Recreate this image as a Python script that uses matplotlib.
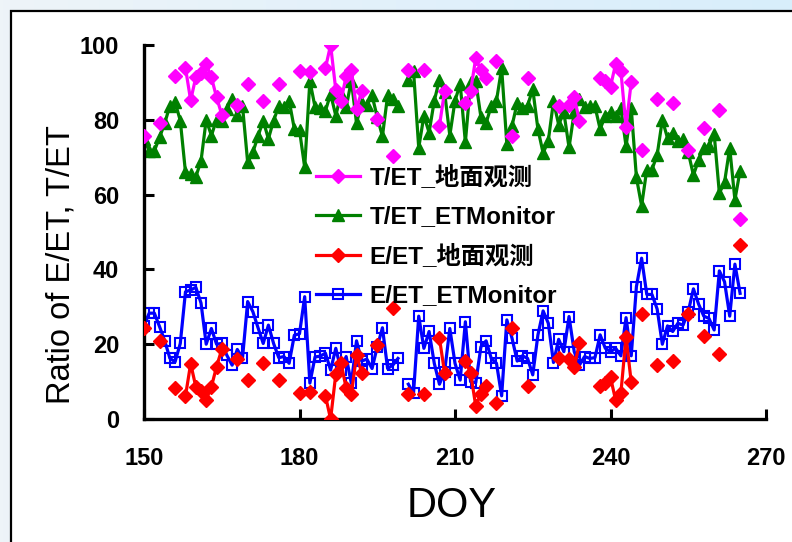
import numpy as np
import pandas as pd
import matplotlib
matplotlib.use("Agg")
import matplotlib.pyplot as plt
from matplotlib.patches import Rectangle
from matplotlib.colors import LinearSegmentedColormap

plt.rcParams['font.family'] = ['Liberation Sans', 'Noto Sans CJK SC', 'DejaVu Sans']

# ---------------- data ----------------
doy_monitor = [149, 150, 151, 152, 153, 154, 155, 156, 157, 158, 159, 160, 161, 162, 163, 164,
               165, 166, 167, 168, 169, 170, 171, 172, 173, 174, 175, 176, 177, 178, 179, 180,
               181, 182, 183, 184, 185, 186, 187, 188, 189, 190, 191, 192, 193, 194, 195, 196,
               197, 198, 199, 201, 202, 203, 204, 205, 206, 207, 208, 209, 210, 211, 212, 213,
               214, 215, 216, 217, 218, 219, 220, 221, 222, 223, 224, 225, 226, 227, 228, 229,
               230, 231, 232, 233, 234, 235, 236, 237, 238, 239, 240, 241, 242, 243, 244, 245,
               246, 247, 248, 249, 250, 251, 252, 253, 254, 255, 256, 257, 258, 259, 260, 261,
               262, 263, 264, 265]

e_et_monitor = [30.0, 25.0, 28.3, 28.3, 24.7, 20.9, 16.2, 15.3, 20.2, 34.0, 34.5, 35.2, 31.0, 20.0, 24.2, 20.0,
                20.2, 17.0, 14.4, 18.6, 16.2, 31.4, 28.7, 24.4, 20.2, 25.1, 20.2, 16.4, 16.7, 14.9, 22.4, 22.8,
                32.7, 9.6, 16.6, 16.8, 17.6, 13.1, 18.9, 13.1, 16.7, 9.5, 20.9, 15.5, 16.0, 13.5, 19.3, 24.4,
                13.5, 14.4, 16.2, 9.3, 6.9, 27.5, 18.9, 23.4, 14.9, 9.3, 12.7, 24.2, 14.9, 10.4, 26.0, 10.0,
                9.7, 19.3, 20.9, 16.2, 14.9, 6.2, 26.5, 21.6, 15.5, 16.9, 16.2, 11.8, 22.5, 28.9, 25.6, 15.1,
                21.3, 18.0, 27.4, 18.0, 14.4, 16.7, 16.2, 16.4, 22.5, 18.9, 18.0, 18.9, 16.9, 27.1, 16.9, 35.4,
                43.0, 33.3, 33.3, 29.4, 20.0, 24.9, 23.4, 25.6, 25.1, 28.7, 34.8, 30.7, 27.5, 26.9, 23.8, 39.6,
                36.7, 27.5, 41.4, 33.6]

t_et_monitor = [70.0, 75.0, 71.7, 71.7, 75.3, 79.1, 83.8, 84.7, 79.8, 66.0, 65.5, 64.8, 69.0, 80.0, 75.8, 80.0,
                79.8, 83.0, 85.6, 81.4, 83.8, 68.6, 71.3, 75.6, 79.8, 74.9, 79.8, 83.6, 83.3, 85.1, 77.6, 77.2,
                67.3, 90.4, 83.4, 83.2, 82.4, 86.9, 81.1, 86.9, 83.3, 90.5, 79.1, 84.5, 84.0, 86.5, 80.7, 75.6,
                86.5, 85.6, 83.8, 90.7, 93.1, 72.5, 81.1, 76.6, 85.1, 90.7, 87.3, 75.8, 85.1, 89.6, 74.0, 90.0,
                90.3, 80.7, 79.1, 83.8, 85.1, 93.8, 73.5, 78.4, 84.5, 83.1, 83.8, 88.2, 77.5, 71.1, 74.4, 84.9,
                78.7, 82.0, 72.6, 82.0, 85.6, 83.3, 83.8, 83.6, 77.5, 81.1, 82.0, 81.1, 83.1, 72.9, 83.1, 64.6,
                57.0, 66.7, 66.7, 70.6, 80.0, 75.1, 76.6, 74.4, 74.9, 71.3, 65.2, 69.3, 72.5, 73.1, 76.2, 60.4,
                63.3, 72.5, 58.6, 66.4]

doy_ground = [150, 153, 156, 158, 159, 160, 161, 162, 163, 164, 165, 168, 170, 173, 176, 180,
              182, 185, 186, 187, 188, 189, 190, 191, 192, 195, 198, 201, 204, 207, 208, 212,
              213, 214, 215, 216, 218, 221, 224, 230, 232, 233, 234, 238, 239, 240, 241, 242,
              243, 244, 246, 249, 252, 255, 258, 261, 265]

e_et_ground = [24.2, 20.9, 8.3, 6.1, 14.8, 8.6, 7.6, 5.2, 8.6, 14.0, 18.6, 16.0, 10.3, 15.0, 10.3, 7.0,
               7.2, 6.2, 0.0, 12.0, 15.0, 8.3, 6.6, 17.0, 12.4, 19.9, 29.6, 6.6, 6.6, 21.6, 12.3, 15.5,
               12.4, 3.5, 6.8, 8.8, 4.4, 24.4, 8.8, 16.4, 16.0, 13.8, 20.3, 8.7, 9.7, 11.1, 5.0, 6.9,
               22.0, 9.8, 28.0, 14.4, 15.6, 28.0, 22.3, 17.5, 46.5]

t_et_ground = [75.8, 79.1, 91.7, 93.9, 85.2, 91.4, 92.4, 94.8, 91.4, 86.0, 81.4, 84.0, 89.7, 85.0, 89.7, 93.0,
               92.8, 93.8, 100.0, 88.0, 85.0, 91.7, 93.4, 83.0, 87.6, 80.1, 70.4, 93.4, 93.4, 78.4, 87.7, 84.5,
               87.6, 96.5, 93.2, 91.2, 95.6, 75.6, 91.2, 83.6, 84.0, 86.2, 79.7, 91.3, 90.3, 88.9, 95.0, 93.1,
               78.0, 90.2, 72.0, 85.6, 84.4, 72.0, 77.7, 82.5, 53.5]

x_ticks = [150, 180, 210, 240, 270]
y_ticks = [0, 20, 40, 60, 80, 100]
labels = ['T/ET_地面观测', 'T/ET_ETMonitor', 'E/ET_地面观测', 'E/ET_ETMonitor']

# build series on a continuous day axis so that missing days break the lines
full_days = np.arange(149, 266)
mon = pd.DataFrame({'E': e_et_monitor, 'T': t_et_monitor}, index=doy_monitor).reindex(full_days)
gnd = pd.DataFrame({'E': e_et_ground, 'T': t_et_ground}, index=doy_ground).reindex(full_days)

# ---------------- figure ----------------
W, H = 792, 542
fig = plt.figure(figsize=(W / 100, H / 100), dpi=100)

# background gradient + framed white panel
bg = fig.add_axes([0, 0, 1, 1], zorder=-10)
grad = np.linspace(0, 1, 256)[None, :]
cmap = LinearSegmentedColormap.from_list('bg', ['#eef4f8', '#e2f1fb', '#d8eefb'])
bg.imshow(grad, aspect='auto', cmap=cmap, extent=[0, 1, 0, 1])
bg.set_xlim(0, 1)
bg.set_ylim(0, 1)
bg.axis('off')
bg.add_patch(Rectangle((11 / W, -0.05), 1.1, (H - 11) / H + 0.05, transform=bg.transAxes,
                       facecolor='white', edgecolor='black', linewidth=1.6))

ax = fig.add_axes([144 / W, (H - 419) / H, 622 / W, 374 / H])
ax.patch.set_alpha(0)

lw = 2.3
ax.plot(full_days, gnd['T'], color='#FF00FF', lw=lw, marker='D', ms=6.8, mec='#FF00FF',
        mfc='#FF00FF', zorder=3, label=labels[0])
ax.plot(full_days, mon['T'], color='#008000', lw=lw, marker='^', ms=8.5, mec='#008000',
        mfc='#008000', zorder=2, label=labels[1])
ax.plot(full_days, gnd['E'], color='#FF0000', lw=lw, marker='D', ms=6.8, mec='#FF0000',
        mfc='#FF0000', zorder=3, label=labels[2])
ax.plot(full_days, mon['E'], color='#0000FF', lw=lw, marker='s', ms=7.5, mec='#0000FF',
        mfc='none', mew=1.5, zorder=2, label=labels[3])

ax.set_xlim(150, 270)
ax.set_ylim(0, 100)
ax.set_xticks(x_ticks)
ax.set_yticks(y_ticks)

for s in ['top', 'right']:
    ax.spines[s].set_visible(False)
for s in ['left', 'bottom']:
    ax.spines[s].set_linewidth(2.4)

ax.tick_params(axis='both', direction='in', length=7, width=2.2, labelsize=17)
ax.tick_params(axis='y', pad=18)
ax.tick_params(axis='x', pad=20)
for t in ax.get_xticklabels() + ax.get_yticklabels():
    t.set_fontweight('bold')

fig.text(61 / W, 1 - 265 / H, 'Ratio of E/ET, T/ET', rotation=90, fontsize=23.5,
         ha='center', va='center')
fig.text(452 / W, 1 - 506 / H, 'DOY', fontsize=30, ha='center', va='center')

leg = ax.legend(loc='upper left', bbox_to_anchor=(0.277, 0.678), frameon=False,
                prop={'size': 17.5, 'weight': 'bold'}, handlelength=1.8, handletextpad=0.4,
                labelspacing=0.66, borderpad=0, borderaxespad=0)

fig.savefig('out.png', dpi=100)
